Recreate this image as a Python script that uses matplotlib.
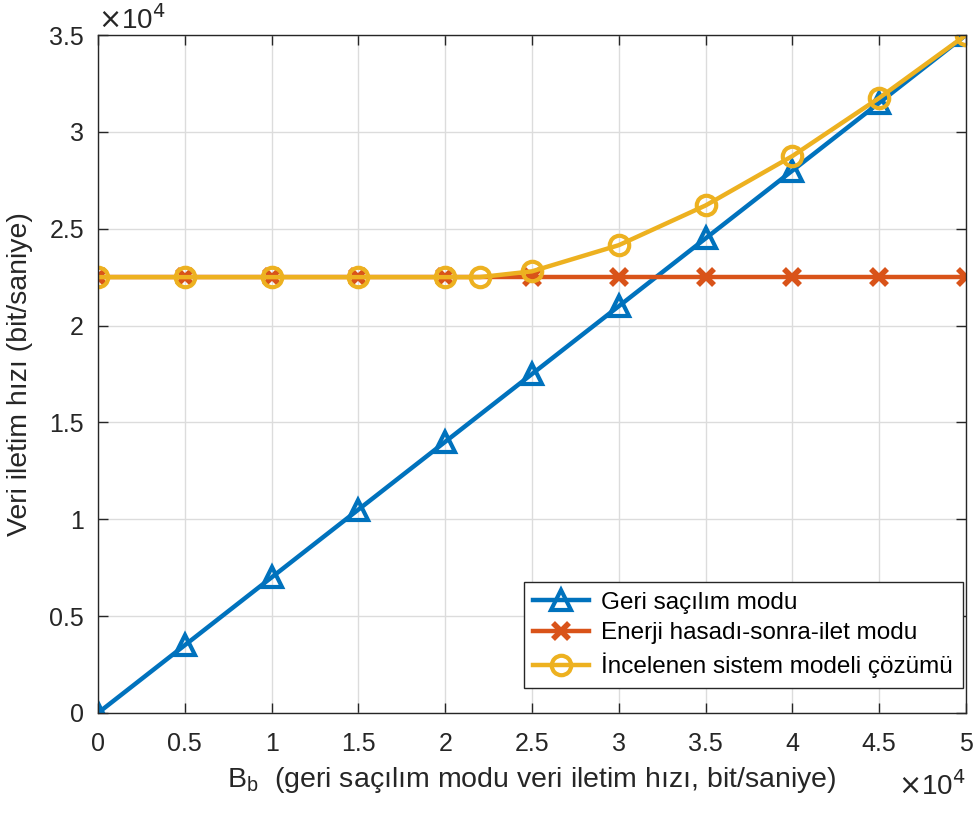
import matplotlib
matplotlib.use('Agg')
import matplotlib.pyplot as plt
import numpy as np

plt.rcParams['font.family'] = ['Liberation Sans', 'DejaVu Sans']

# data
bb = [0, 5000, 10000, 15000, 20000, 25000, 30000, 35000, 40000, 45000, 50000]
geri = [0, 3500, 7000, 10500, 14000, 17500, 21000, 24500, 28000, 31500, 35000]
enerji = [22500] * 11
bb_sys = [0, 5000, 10000, 15000, 20000, 22000, 25000, 30000, 35000, 40000,
          45000, 50000]
sistem = [22500, 22500, 22500, 22500, 22500, 22500, 22800, 24150, 26200,
          28750, 31750, 35000]
xticks = [0, 5000, 10000, 15000, 20000, 25000, 30000, 35000, 40000, 45000,
          50000]
xticklabels = ['0', '0.5', '1', '1.5', '2', '2.5', '3', '3.5', '4', '4.5', '5']
yticks = [0, 5000, 10000, 15000, 20000, 25000, 30000, 35000]
yticklabels = ['0', '0.5', '1', '1.5', '2', '2.5', '3', '3.5']

c_blue = '#0072BD'
c_red = '#D95319'
c_yel = '#EDB120'
c_txt = '#262626'

fig = plt.figure(figsize=(9.79, 8.14), dpi=100)
ax = fig.add_axes([0.1001, 0.1241, 0.8866, 0.8329])

ax.plot(bb, geri, '-^', color=c_blue, lw=3.2, ms=15, mfc='none', mew=3,
        label='Geri saçılım modu')
ax.plot(bb, enerji, '-x', color=c_red, lw=3.2, ms=11, mew=4,
        label='Enerji hasadı-sonra-ilet modu')
ax.plot(bb_sys, sistem, '-o', color=c_yel, lw=3.2, ms=14, mfc='none', mew=3,
        label='İncelenen sistem modeli çözümü')

ax.set_xlim(0, 50000)
ax.set_ylim(0, 35000)
ax.set_xticks(xticks)
ax.set_xticklabels(xticklabels)
ax.set_yticks(yticks)
ax.set_yticklabels(yticklabels)
ax.tick_params(direction='in', top=True, right=True, labelsize=18,
               length=7, width=1, colors=c_txt)
ax.tick_params(axis='x', pad=14)
ax.tick_params(axis='y', pad=10)
for s in ax.spines.values():
    s.set_color(c_txt)
    s.set_linewidth(1)
ax.grid(True, color='#dcdcdc', lw=1)
ax.set_axisbelow(True)

ax.set_xlabel('B$_\\mathregular{b}$  (geri saçılım modu veri iletim hızı, bit/saniye)',
              fontsize=20.5, color=c_txt, labelpad=6)
ax.set_ylabel('Veri iletim hızı (bit/saniye)', fontsize=20.5, color=c_txt,
              labelpad=12)

ax.text(0.0, 1.0, '$\\times$10$^4$', transform=ax.transAxes, fontsize=20,
        color=c_txt, ha='left', va='bottom')
ax.text(1.0, -0.085, '$\\times$10$^4$', transform=ax.transAxes, fontsize=20,
        color=c_txt, ha='right', va='top')

leg = ax.legend(loc='lower right', fontsize=17.5, fancybox=False,
                framealpha=1, edgecolor=c_txt, borderpad=0.4,
                handlelength=2.3, labelspacing=0.35, handletextpad=0.5,
                borderaxespad=0, bbox_to_anchor=(0.9965, 0.037))
leg.get_frame().set_linewidth(1)

fig.savefig('out.png', dpi=100)
